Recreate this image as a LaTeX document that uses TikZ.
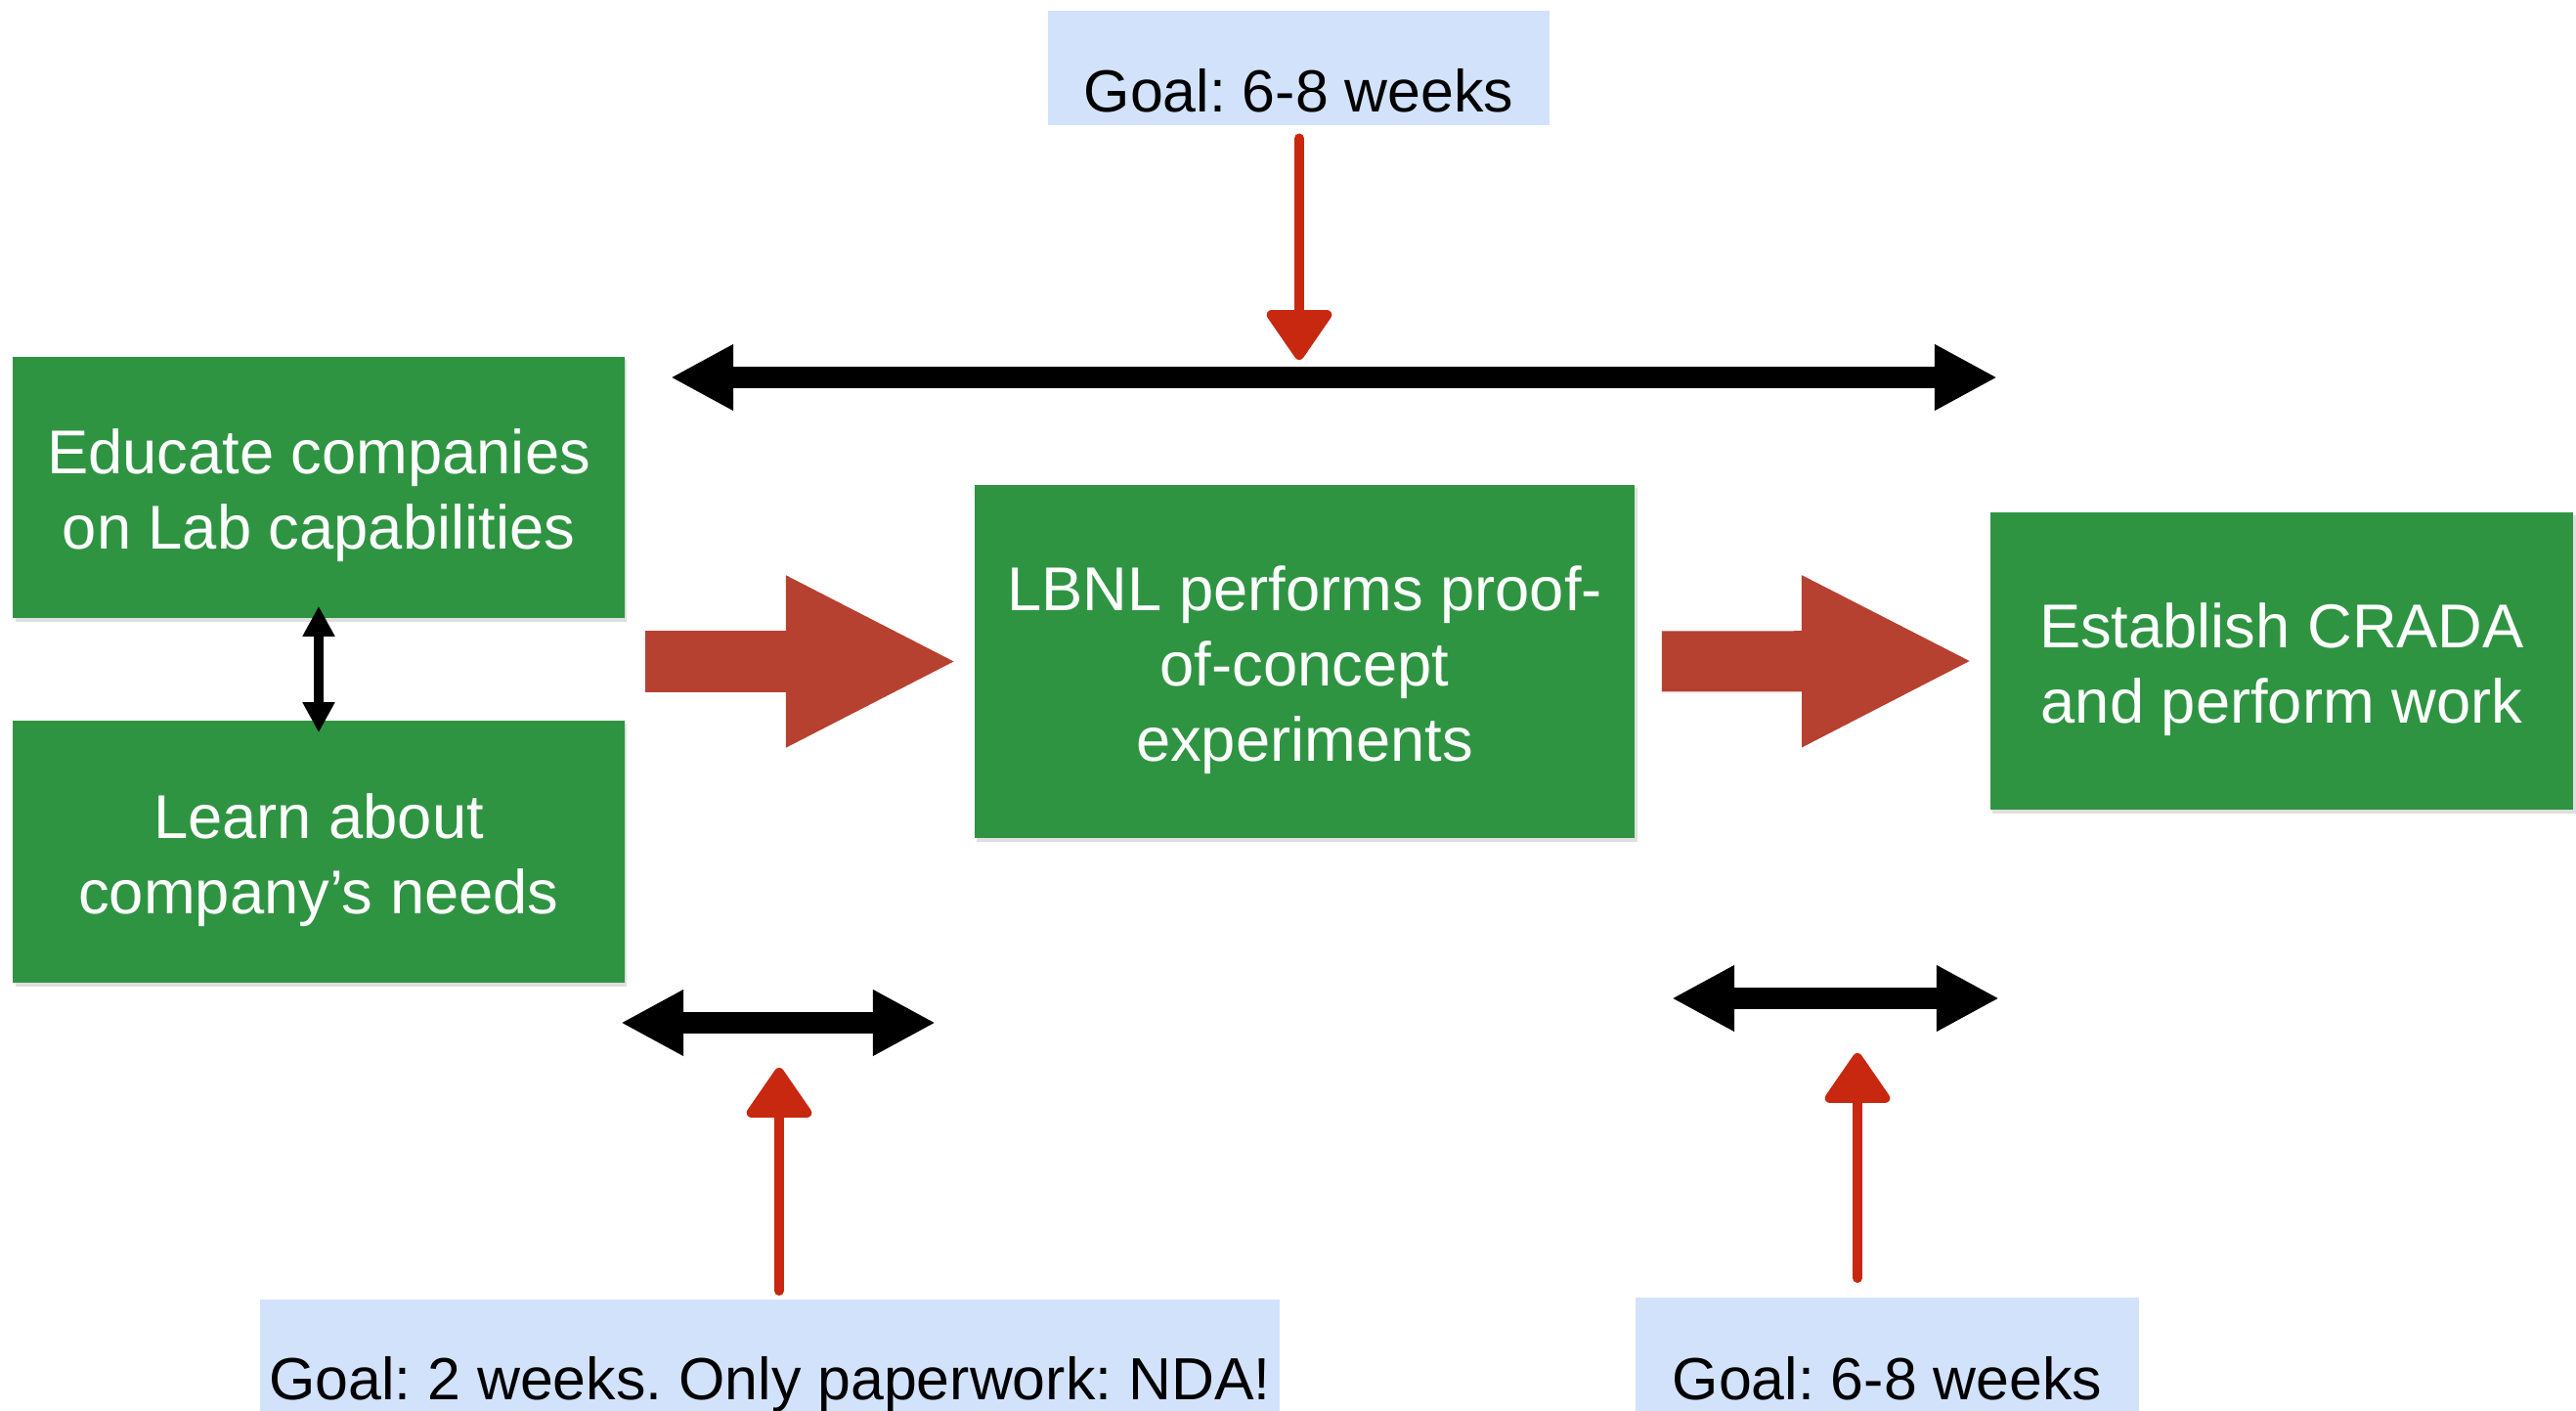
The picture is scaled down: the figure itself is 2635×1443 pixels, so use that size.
\documentclass[tikz,border=0pt]{standalone}
\usepackage{fontspec}
\setmainfont{Liberation Sans}
\frenchspacing
\usetikzlibrary{arrows.meta,shadows}
\definecolor{boxgreen}{RGB}{47,148,66}
\definecolor{blockred}{RGB}{183,65,48}
\definecolor{handred}{RGB}{200,40,15}
\definecolor{goalblue}{RGB}{211,226,251}
\newcommand{\keystrut}{\rule[-4pt]{0pt}{21.7pt}}

\begin{document}
\begin{tikzpicture}[x=0.01cm, y=-0.01cm,
  stepbox/.style={fill=boxgreen, text=white, inner sep=0pt, align=center,
    font=\fontsize{18}{21.9}\selectfont,
    drop shadow={shadow xshift=0.025cm, shadow yshift=-0.035cm, opacity=0.25}},
  goalbox/.style={fill=goalblue, inner sep=0pt, anchor=north,
    font=\fontsize{17.3}{20}\selectfont},
  spanarrow/.style={line width=0.22cm,
    {Triangle[length=0.64cm,width=0.63cm]}-{Triangle[length=0.64cm,width=0.63cm]}},
  linkarrow/.style={line width=0.1cm,
    {Triangle[length=0.31cm,width=0.31cm]}-{Triangle[length=0.31cm,width=0.31cm]}},
  goalarrow/.style={draw=handred, line width=0.1cm, line cap=round,
    -{Triangle[length=0.55cm,width=0.73cm,round]}},
  blockarrow/.style={draw=blockred, line width=0.62cm,
    -{Triangle[length=1.76cm,width=1.62cm]}}]
\useasboundingbox (0,0) rectangle (2635,1443);

\node [stepbox, minimum width=6.25cm, minimum height=2.67cm] (educate) at (326,498.5) {\keystrut Educate companies\\on Lab capabilities};
\node [stepbox, minimum width=6.25cm, minimum height=2.68cm] (learn) at (326,871) {\keystrut Learn about\\company’s needs};
\node [stepbox, minimum width=6.75cm, minimum height=3.61cm] (lbnl) at (1334.5,676.5) {\keystrut LBNL performs proof-\\of-concept\\experiments};
\node [stepbox, minimum width=5.96cm, minimum height=3.04cm] (crada) at (2334,676) {\keystrut Establish CRADA\\and perform work};

\node [goalbox, minimum width=5.13cm, text height=1.04cm, text depth=0.13cm] (goaltop) at (1328.5,10) {Goal: 6-8 weeks};
\node [goalbox, minimum width=10.43cm, text height=1.03cm, text depth=0.15cm] (goalnda) at (787.5,1328) {Goal: 2 weeks. Only paperwork: NDA!};
\node [goalbox, minimum width=5.15cm, text height=1.05cm, text depth=0.15cm] (goalcrada) at (1930.5,1326) {Goal: 6-8 weeks};

\coordinate (allL) at (686,386);
\coordinate (allR) at (2043,386);
\coordinate (ndaL) at (635,1046);
\coordinate (ndaR) at (957,1046);
\coordinate (cradaL) at (1710,1021);
\coordinate (cradaR) at (2045,1021);
\coordinate (tipA) at (1329,368);
\coordinate (tipB) at (797,1092);
\coordinate (tipC) at (1900,1077);

\draw [blockarrow, shorten <=0.21cm, shorten >=0.16cm] (educate.east |- lbnl.west) -- (lbnl.west);
\draw [blockarrow, shorten <=0.27cm, shorten >=0.16cm] (lbnl.east) -- (crada.west);
\draw [linkarrow, shorten <=-0.13cm, shorten >=-0.13cm] (educate) -- (learn);

% time spans, each with its goal pointing at it
\draw [spanarrow] (allL) -- (allR);
\draw [spanarrow] (ndaL) -- (ndaR);
\draw [spanarrow] (cradaL) -- (cradaR);
\draw [goalarrow, shorten <=0.13cm] (goaltop.south -| tipA) -- (tipA);
\draw [goalarrow, shorten <=0.08cm] (goalnda.north -| tipB) -- (tipB);
\draw [goalarrow, shorten <=0.19cm] (goalcrada.north -| tipC) -- (tipC);
\end{tikzpicture}
\end{document}
